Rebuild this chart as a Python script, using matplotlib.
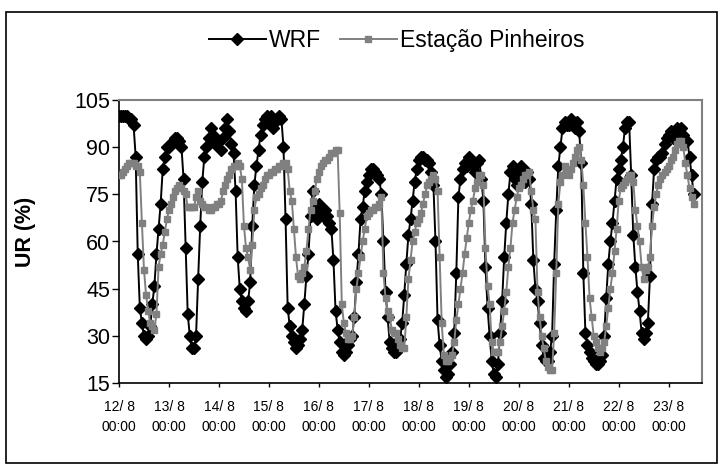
import matplotlib
matplotlib.use("Agg")
import matplotlib.pyplot as plt
from matplotlib.patches import Rectangle

plt.rcParams['font.family'] = ['Liberation Sans', 'DejaVu Sans']

# hourly relative humidity (%), 12/8 00:00 onwards, one row per day
wrf = [
    100, 100, 100, 100, 100, 99, 99, 97, 87, 56, 39, 34, 30, 29, 30, 33, 40, 46, 56, 64, 72, 83, 87, 90,
    90, 91, 92, 93, 93, 92, 90, 80, 58, 37, 30, 26, 26, 30, 48, 65, 79, 87, 90, 93, 96, 94, 91, 92,
    92, 89, 93, 96, 99, 95, 91, 88, 76, 55, 45, 41, 39, 38, 41, 47, 65, 78, 84, 89, 94, 97, 99, 100,
    98, 100, 96, 98, 99, 100, 99, 90, 67, 39, 33, 30, 28, 26, 27, 29, 32, 40, 49, 56, 68, 76, 70, 67,
    72, 70, 68, 70, 68, 66, 64, 54, 38, 32, 28, 25, 24, 25, 27, 29, 30, 36, 47, 56, 67, 71, 76, 79,
    81, 83, 83, 82, 81, 80, 75, 60, 44, 36, 28, 26, 25, 25, 27, 29, 34, 43, 53, 62, 67, 73, 79, 83,
    86, 87, 87, 86, 86, 85, 82, 78, 60, 35, 27, 22, 19, 17, 18, 21, 25, 31, 50, 74, 80, 83, 85, 84,
    87, 86, 84, 82, 85, 86, 80, 73, 52, 39, 30, 22, 18, 17, 21, 31, 41, 55, 66, 75, 82, 84, 80, 78,
    82, 84, 80, 79, 82, 80, 72, 54, 45, 41, 34, 27, 23, 22, 22, 25, 30, 53, 70, 84, 90, 96, 98, 97,
    97, 99, 97, 96, 98, 95, 85, 50, 31, 27, 25, 23, 22, 21, 21, 22, 24, 30, 42, 53, 60, 66, 73, 80,
    83, 86, 90, 96, 98, 98, 81, 62, 52, 44, 38, 31, 29, 31, 34, 49, 72, 83, 86, 87, 87, 88, 91, 93,
    94, 95, 93, 95, 96, 95, 96, 94, 92, 92, 87, 81, 75,
]

pinheiros = [
    81, 81, 82, 83, 84, 85, 85, 85, 84, 84, 82, 66, 51, 43, 38, 34, 33, 32, 37, 52, 56, 59, 63, 67,
    70, 72, 74, 76, 77, 78, 77, 76, 75, 71, 71, 71, 71, 74, 76, 73, 72, 71, 71, 70, 70, 71, 71, 72,
    72, 73, 76, 78, 80, 81, 83, 84, 84, 85, 84, 80, 65, 58, 55, 51, 59, 70, 74, 75, 77, 78, 80, 81,
    81, 82, 82, 83, 83, 84, 84, 85, 85, 83, 76, 73, 64, 55, 49, 48, 50, 52, 57, 64, 70, 73, 76, 80,
    82, 84, 85, 86, 86, 87, 88, 88, 89, 89, 69, 40, 34, 31, 29, 29, 30, 36, 45, 50, 55, 60, 64, 68,
    69, 70, 70, 71, 71, 72, 74, 50, 42, 38, 36, 32, 31, 31, 29, 27, 26, 26, 36, 48, 54, 60, 63, 66,
    67, 69, 72, 75, 78, 79, 80, 81, 80, 76, 55, 34, 24, 22, 22, 23, 24, 28, 35, 40, 45, 50, 56, 61,
    66, 70, 73, 77, 79, 81, 81, 78, 58, 46, 40, 28, 25, 25, 25, 28, 33, 38, 44, 52, 58, 66, 70, 74,
    77, 78, 80, 81, 81, 82, 76, 70, 67, 44, 36, 30, 26, 22, 20, 19, 19, 31, 50, 72, 79, 81, 84, 82,
    81, 83, 85, 87, 89, 90, 86, 78, 66, 55, 42, 36, 30, 28, 26, 25, 26, 28, 33, 39, 45, 50, 57, 64,
    73, 77, 78, 79, 80, 81, 81, 79, 70, 65, 60, 52, 48, 51, 52, 55, 65, 71, 75, 78, 80, 81, 82, 83,
    84, 86, 87, 89, 91, 92, 92, 90, 85, 81, 77, 74, 72,
]

days = [12, 13, 14, 15, 16, 17, 18, 19, 20, 21, 22, 23]
day_labels = ["%d/ 8\n00:00" % d for d in days]
y_ticks = [15, 30, 45, 60, 75, 90, 105]

hours = list(range(len(wrf)))

fig = plt.figure(figsize=(7.2, 4.67), dpi=100)
ax = fig.add_axes([119/720, 1 - 383/467, 583/720, 283/467])

ax.plot(hours, wrf, color='black', lw=1.4, marker='D', ms=6.5,
        mfc='black', mec='black', label='WRF', zorder=3)
ax.plot(hours, pinheiros, color='#808080', lw=1.4, marker='s', ms=4.3,
        mfc='#808080', mec='#808080', label='Estação Pinheiros', zorder=4)

ax.set_xlim(0, 280)
ax.set_ylim(15, 105)
ax.set_yticks(y_ticks)
ax.set_xticks([24*i for i in range(len(days))])
ax.set_xticklabels(day_labels, linespacing=1.55)

ax.tick_params(axis='y', direction='out', length=5, width=1, pad=1.5, labelsize=15.5)
ax.tick_params(axis='x', direction='out', length=3, width=1, pad=9, labelsize=10)

for s in ['left', 'bottom']:
    ax.spines[s].set_color('black')
    ax.spines[s].set_linewidth(1.2)
for s in ['top', 'right']:
    ax.spines[s].set_color('#808080')
    ax.spines[s].set_linewidth(1.5)

ax.set_ylabel('UR (%)', fontsize=15.5, fontweight='bold')
ax.yaxis.set_label_coords(-0.143, 0.534)

fig.legend(loc='center', bbox_to_anchor=(0.551, 0.914), ncol=2, frameon=False,
           fontsize=16.5, handlelength=2.5, handletextpad=0.15, columnspacing=0.8)

fig.patches.append(Rectangle((6/720, 4/467), 711/720, 451/467, transform=fig.transFigure,
                             fill=False, edgecolor='black', lw=1.2))

fig.savefig('out.png', dpi=100)
